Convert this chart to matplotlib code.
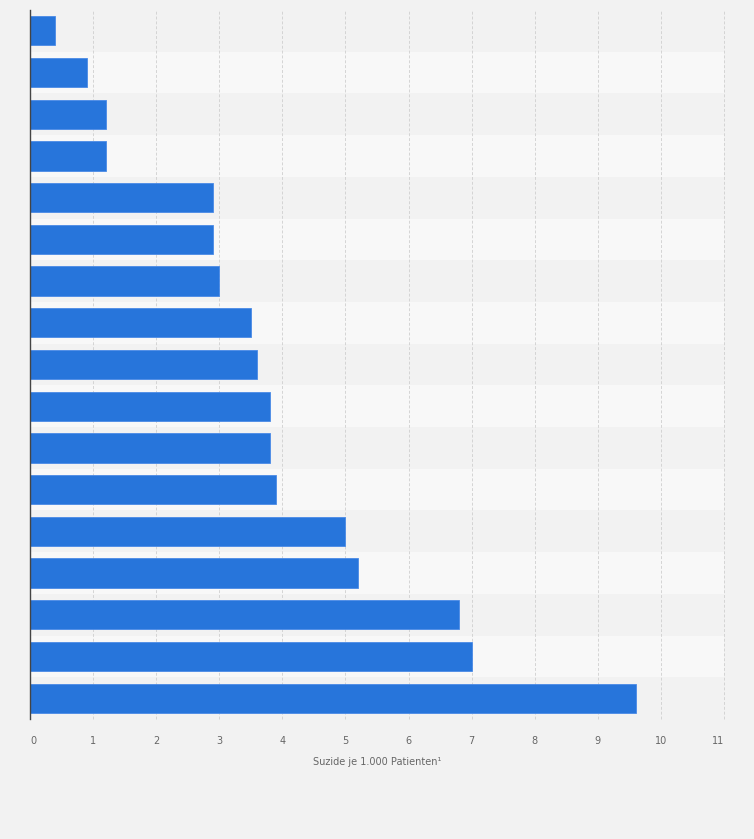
import numpy as np
import matplotlib.pyplot as plt

values = [0.4, 0.9, 1.2, 1.2, 2.9, 2.9, 3.0, 3.5, 3.6, 3.8, 3.8, 3.9, 5.0, 5.2, 6.8, 7.0, 9.6]
x_ticks = list(range(0, 12))
x_label = "Suzide je 1.000 Patienten\u00b9"

fig = plt.figure(figsize=(7.54, 8.39), dpi=100, facecolor="#f2f2f2")
ax = fig.add_axes([30 / 754, 1 - 719 / 839, 694 / 754, 709 / 839])
ax.set_facecolor("#f2f2f2")

n = len(values)
y = np.arange(n)

# alternating row bands
for i in range(n):
    c = "#f2f2f2" if i % 2 == 0 else "#f8f8f8"
    ax.axhspan(i - 0.5, i + 0.5, color=c, zorder=0, lw=0)

ax.barh(y, values, height=0.7, color="#2775db", edgecolor="#4a8ae6", linewidth=0.6, zorder=3)

ax.set_ylim(n - 0.5, -0.5)
ax.set_xlim(0, 11)
ax.set_xticks(x_ticks)
ax.set_xticklabels([str(t) for t in x_ticks], fontsize=7, color="#666666")
ax.set_yticks([])
ax.tick_params(axis="x", length=0, pad=12)
labels = ax.get_xticklabels()
labels[0].set_horizontalalignment("left")
labels[-1].set_horizontalalignment("right")

ax.grid(axis="x", color="#d4d4d4", linestyle=(0, (3, 2)), linewidth=0.7, zorder=1)
for gl in ax.get_xgridlines():
    gl.set_clip_on(False)
for s in ["top", "right", "bottom"]:
    ax.spines[s].set_visible(False)
ax.spines["left"].set_color("#444444")
ax.spines["left"].set_linewidth(1.0)
ax.spines["left"].set_zorder(4)

ax.set_xlabel(x_label, fontsize=7, color="#666666", labelpad=8)

fig.savefig("out.png", dpi=100, facecolor=fig.get_facecolor())
